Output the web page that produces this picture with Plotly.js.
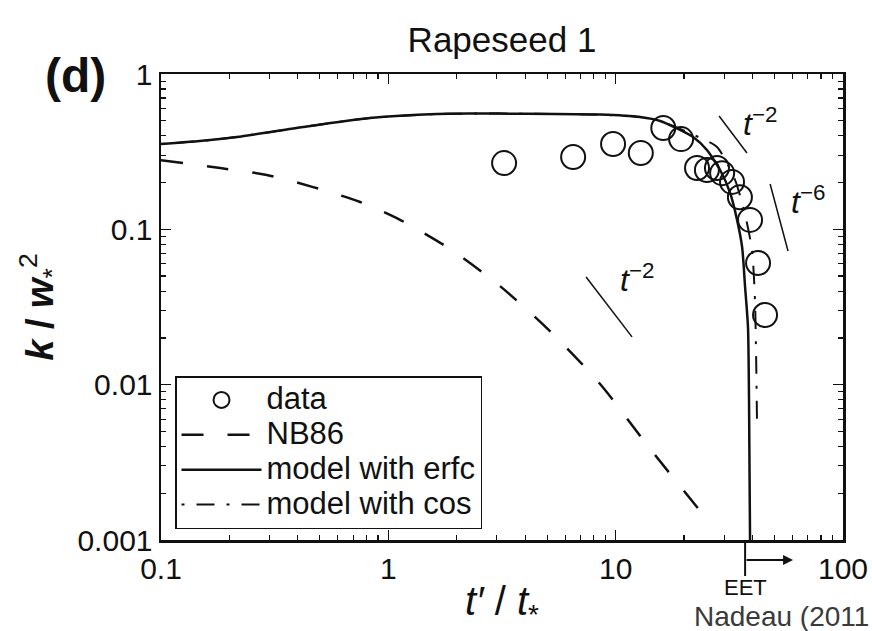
<!DOCTYPE html>
<html>
<head>
<meta charset="utf-8">
<script src="https://cdn.plot.ly/plotly-3.0.1.min.js"></script>
<style>html,body{margin:0;padding:0;background:#fff;}#chart{width:872px;height:631px;}</style>
</head>
<body>
<div id="chart"></div>
<script>
// ---- data ----
const dataT = [3.23, 6.50, 9.74, 12.9, 16.2, 19.4, 22.8, 25.2, 27.9, 29.4, 32.5, 35.2, 39.0, 42.3, 45.4];
const dataK = [0.267, 0.292, 0.354, 0.310, 0.449, 0.381, 0.248, 0.241, 0.248, 0.230, 0.202, 0.161, 0.115, 0.0607, 0.0281];

const nbT = [0.1, 0.182, 0.292, 0.467, 0.751, 1.09, 1.87, 3.10, 5.14, 8.54, 14.2, 25.2];
const nbK = [0.279, 0.248, 0.224, 0.187, 0.150, 0.118, 0.0747, 0.0431, 0.0221, 0.0101, 0.00385, 0.00136];

const erfcT = [0.1, 0.148, 0.216, 0.422, 0.830, 1.64, 2.29, 4.0, 8.54, 12.8, 15.7, 21.9, 25.2, 28.8, 31.9, 34.2, 36.0, 37.1, 38.2, 38.6, 39.0];
const erfcK = [0.354, 0.370, 0.393, 0.456, 0.521, 0.553, 0.556, 0.555, 0.548, 0.528, 0.498, 0.393, 0.324, 0.241, 0.171, 0.115, 0.0769, 0.0425, 0.0235, 0.00796, 0.001];

const cosT = [0.1, 0.148, 0.216, 0.422, 0.830, 1.64, 2.29, 4.0, 8.54, 12.8, 15.7, 20.6, 27.9, 33.5, 37.1, 39.8, 41.0, 41.5, 41.9];
const cosK = [0.354, 0.370, 0.393, 0.456, 0.521, 0.553, 0.556, 0.555, 0.548, 0.528, 0.498, 0.423, 0.339, 0.208, 0.124, 0.0736, 0.0351, 0.0144, 0.0051];

// reference slope segments
const slopeA_T = [28.5, 37.8], slopeA_K = [0.537, 0.310];   // t^-2 (upper)
const slopeB_T = [47.8, 57.3], slopeB_K = [0.196, 0.0725];  // t^-6
const slopeC_T = [7.41, 11.8], slopeC_K = [0.0493, 0.0203]; // t^-2 (lower)
const slopeLabelT = [43.2, 70.2, 12.4];
const slopeLabelK = [0.491, 0.154, 0.0486];
const slopeLabels = ['<i>t</i><sup>−2</sup>', '<i>t</i><sup>−6</sup>', '<i>t</i><sup>−2</sup>'];

const seriesNames = ['data', 'NB86', 'model with erfc', 'model with cos'];

const xTickVals = [0.1, 1, 10, 100];
const xTickText = ['0.1', '1', '10', '100'];
const yTickVals = [0.001, 0.01, 0.1, 1];
const yTickText = ['0.001', '0.01', '0.1', '1'];

const eetT = 37.1;
const eetArrowEndT = 60.3;

// ---- chart ----
const FONT = 'Liberation Sans, Arial, Helvetica, sans-serif';
const INK = '#111';
const legName = s => '<span style="font-size:31px">' + s + '</span>';

const traces = [
  {x: dataT, y: dataK, name: legName(seriesNames[0]), mode: 'markers', type: 'scatter',
   marker: {symbol: 'circle-open', size: 24, color: INK, line: {width: 2, color: INK}}},
  {x: nbT, y: nbK, name: legName(seriesNames[1]), mode: 'lines', type: 'scatter',
   line: {color: INK, width: 2.5, dash: '22px,24px', shape: 'spline', smoothing: 0.8}},
  {x: erfcT, y: erfcK, name: legName(seriesNames[2]), mode: 'lines', type: 'scatter',
   line: {color: INK, width: 2.5, shape: 'spline', smoothing: 0.6}},
  {x: cosT, y: cosK, name: legName(seriesNames[3]), mode: 'lines', type: 'scatter',
   line: {color: INK, width: 2, dash: '3px,12px,18px,12px', shape: 'spline', smoothing: 0.6}},
  {x: slopeA_T, y: slopeA_K, mode: 'lines', showlegend: false, hoverinfo: 'skip', line: {color: INK, width: 1.5}},
  {x: slopeB_T, y: slopeB_K, mode: 'lines', showlegend: false, hoverinfo: 'skip', line: {color: INK, width: 1.5}},
  {x: slopeC_T, y: slopeC_K, mode: 'lines', showlegend: false, hoverinfo: 'skip', line: {color: INK, width: 1.5}}
];

const L = 161, R = 29, T = 74, B = 91, W = 872, H = 631;
const pw = W - L - R, ph = H - T - B;
const px = v => (v - L) / pw;          // pixel -> paper x
const py = v => (H - B - v) / ph;      // pixel -> paper y

const annotations = slopeLabels.map((s, i) => ({
  x: Math.log10(slopeLabelT[i]), y: Math.log10(slopeLabelK[i]), xref: 'x', yref: 'y',
  xanchor: 'center', yanchor: 'middle',
  text: s, showarrow: false, font: {family: FONT, size: 32, color: INK}
}));
annotations.push(
  {xref: 'paper', yref: 'paper', x: px(75), y: py(76), xanchor: 'center', yanchor: 'middle',
   text: '<b>(d)</b>', showarrow: false, font: {family: FONT, size: 48, color: INK}},
  {xref: 'x', yref: 'paper', x: Math.log10(eetT), y: py(587), xanchor: 'center', yanchor: 'middle',
   text: 'EET', showarrow: false, font: {family: FONT, size: 22, color: INK}},
  {xref: 'x', yref: 'paper', x: Math.log10(eetArrowEndT), y: py(560), ax: -48, ay: 0, text: '',
   showarrow: true, arrowhead: 2, arrowsize: 1, arrowwidth: 2, arrowcolor: INK},
  {xref: 'paper', yref: 'paper', x: px(692), y: py(616), xanchor: 'left', yanchor: 'middle',
   text: 'Nadeau (2011', showarrow: false,
   font: {family: FONT, size: 28, color: '#3a3a3a'}}
);

const shapes = [
  {type: 'line', xref: 'x', yref: 'paper', x0: eetT, x1: eetT, y0: 0, y1: py(576),
   line: {color: INK, width: 2}}
];

const axisCommon = {
  type: 'log', showgrid: false, zeroline: false, showline: true, linecolor: INK, linewidth: 2.5,
  mirror: 'allticks', ticks: 'inside', ticklen: 10, tickwidth: 1.5, tickcolor: INK,
  tickfont: {family: FONT, size: 30, color: INK},
  minor: {ticks: 'inside', ticklen: 5, tickwidth: 1.2, tickcolor: INK, dtick: 'D1', showgrid: false}
};

const layout = {
  width: W, height: H,
  margin: {l: L, r: R, t: T, b: B},
  paper_bgcolor: '#fff', plot_bgcolor: '#fff',
  font: {family: FONT, color: INK},
  title: {text: 'Rapeseed 1', x: 502 / W, xanchor: 'center', y: 1 - 40 / H, yanchor: 'middle',
          yref: 'container', font: {family: FONT, size: 35, color: INK}},
  xaxis: Object.assign({}, axisCommon, {
    range: [-1, 2], tickvals: xTickVals, ticktext: xTickText, ticklabelstandoff: 0,
    title: {text: '<i>t′</i> / <i>t</i><sub>*</sub>', standoff: 4, font: {family: FONT, size: 40, color: INK}}
  }),
  yaxis: Object.assign({}, axisCommon, {
    range: [-3, 0], tickvals: yTickVals, ticktext: yTickText,
    title: {text: '<b><i>k</i> / <i>w</i></b><sub>*</sub><sup>2</sup>', standoff: 12, font: {family: FONT, size: 38, color: INK}}
  }),
  legend: {
    x: px(175), y: py(529), xanchor: 'left', yanchor: 'bottom',
    bgcolor: '#fff', bordercolor: INK, borderwidth: 1.5,
    font: {family: FONT, size: 24.5, color: INK},
    itemwidth: 80, tracegroupgap: 0
  },
  showlegend: true,
  annotations: annotations,
  shapes: shapes
};

Plotly.newPlot('chart', traces, layout, {staticPlot: true, displayModeBar: false});
</script>
</body>
</html>
